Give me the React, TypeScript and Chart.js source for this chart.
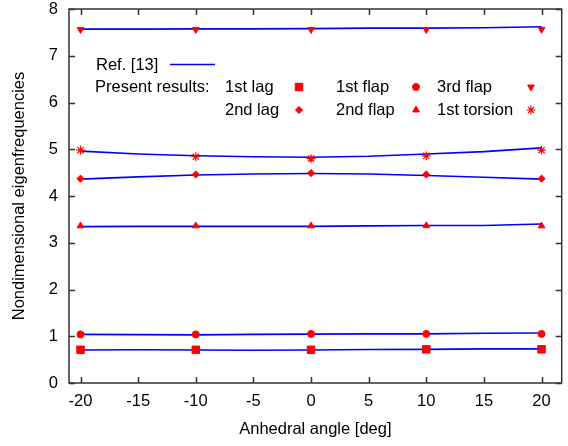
import React, { useEffect, useRef } from 'react';
import { Chart, registerables } from 'chart.js';
import { drawPoint } from 'chart.js/helpers';

Chart.register(...registerables);

// Anhedral angles (deg)
const refAngles = [-20, -15, -10, -5, 0, 5, 10, 15, 20];
const presentAngles = [-20, -10, 0, 10, 20];
const xTickValues = [-20, -15, -10, -5, 0, 5, 10, 15, 20];
const yTickValues = [0, 1, 2, 3, 4, 5, 6, 7, 8];

// Ref. [13] curves
const ref1stLag = [0.705, 0.71, 0.705, 0.7, 0.705, 0.715, 0.72, 0.73, 0.73];
const ref1stFlap = [1.04, 1.035, 1.03, 1.04, 1.045, 1.05, 1.05, 1.065, 1.07];
const ref2ndFlap = [3.345, 3.35, 3.35, 3.35, 3.35, 3.36, 3.37, 3.37, 3.4];
const ref2ndLag = [4.36, 4.41, 4.45, 4.47, 4.48, 4.47, 4.44, 4.4, 4.36];
const ref1stTorsion = [4.96, 4.9, 4.86, 4.84, 4.83, 4.85, 4.9, 4.95, 5.03];
const ref3rdFlap = [7.57, 7.57, 7.575, 7.575, 7.58, 7.59, 7.59, 7.6, 7.62];

// Present results
const present1stLag = [0.71, 0.71, 0.71, 0.72, 0.72];
const present1stFlap = [1.04, 1.04, 1.05, 1.05, 1.05];
const present2ndFlap = [3.36, 3.36, 3.36, 3.365, 3.36];
const present2ndLag = [4.37, 4.46, 4.49, 4.46, 4.37];
const present1stTorsion = [4.98, 4.84, 4.8, 4.86, 4.98];
const present3rdFlap = [7.56, 7.56, 7.56, 7.56, 7.565];

const modeLabels = ['1st lag', '1st flap', '3rd flap', '2nd lag', '2nd flap', '1st torsion'];

const FONT = "'Liberation Sans', Arial, Helvetica, sans-serif";
const FONT_SIZE = 16.5;
const RED = '#ff0000';
const BLUE = '#0000ff';

type Marker = { pointStyle: string; rotation: number; radius: number; borderWidth: number };

const markers: Record<string, Marker> = {
  '1st lag': { pointStyle: 'rect', rotation: 0, radius: 5.3, borderWidth: 1 },
  '1st flap': { pointStyle: 'circle', rotation: 0, radius: 3.5, borderWidth: 1 },
  '3rd flap': { pointStyle: 'triangle', rotation: 180, radius: 3.9, borderWidth: 1 },
  '2nd lag': { pointStyle: 'rectRot', rotation: 0, radius: 3.6, borderWidth: 1 },
  '2nd flap': { pointStyle: 'triangle', rotation: 0, radius: 3.9, borderWidth: 1 },
  '1st torsion': { pointStyle: 'star', rotation: 0, radius: 4.4, borderWidth: 1.2 },
};

const presentSeries: Record<string, number[]> = {
  '1st lag': present1stLag,
  '1st flap': present1stFlap,
  '3rd flap': present3rdFlap,
  '2nd lag': present2ndLag,
  '2nd flap': present2ndFlap,
  '1st torsion': present1stTorsion,
};

const refSeries = [ref1stLag, ref1stFlap, ref2ndFlap, ref2ndLag, ref1stTorsion, ref3rdFlap];

// Frame with inward tick marks on all four sides
const framePlugin = {
  id: 'frame',
  afterDatasetsDraw(chart: any) {
    const { ctx, chartArea: a, scales } = chart;
    const tl = 6;
    ctx.save();
    ctx.strokeStyle = '#333333';
    ctx.lineWidth = 1.5;
    ctx.beginPath();
    for (const v of xTickValues) {
      const px = Math.round(scales.x.getPixelForValue(v)) + 0.5;
      ctx.moveTo(px, a.bottom);
      ctx.lineTo(px, a.bottom - tl);
      ctx.moveTo(px, a.top);
      ctx.lineTo(px, a.top + tl);
    }
    for (const v of yTickValues) {
      const py = Math.round(scales.y.getPixelForValue(v)) + 0.5;
      ctx.moveTo(a.left, py);
      ctx.lineTo(a.left + tl, py);
      ctx.moveTo(a.right, py);
      ctx.lineTo(a.right - tl, py);
    }
    ctx.stroke();
    ctx.strokeRect(a.left, a.top, a.right - a.left, a.bottom - a.top);
    ctx.restore();
  },
};

// Key: reference line plus the six marker styles
const keyPlugin = {
  id: 'key',
  afterDraw(chart: any) {
    const { ctx } = chart;
    ctx.save();
    ctx.font = `${FONT_SIZE}px ${FONT}`;
    ctx.fillStyle = '#000';
    ctx.textBaseline = 'middle';
    ctx.textAlign = 'left';
    ctx.fillText('Ref. [13]', 96, 65);
    ctx.strokeStyle = BLUE;
    ctx.lineWidth = 1.5;
    ctx.beginPath();
    ctx.moveTo(170, 64.5);
    ctx.lineTo(215, 64.5);
    ctx.stroke();
    ctx.fillStyle = '#000';
    ctx.fillText('Present results:', 95, 87);

    const cols = [
      { tx: 225, mx: 299 },
      { tx: 336, mx: 416 },
      { tx: 437, mx: 531 },
    ];
    const rows = [87, 110];
    modeLabels.forEach((label, i) => {
      const col = cols[i % 3];
      const y = rows[Math.floor(i / 3)];
      ctx.fillStyle = '#000';
      ctx.fillText(label, col.tx, y);
      const m = markers[label];
      ctx.fillStyle = RED;
      ctx.strokeStyle = RED;
      ctx.lineWidth = m.borderWidth;
      drawPoint(ctx, m as any, col.mx, y);
    });
    ctx.restore();
  },
};

export default function App() {
  const canvasRef = useRef<HTMLCanvasElement | null>(null);

  useEffect(() => {
    document.body.style.margin = '0';
    const canvas = canvasRef.current;
    if (!canvas) return;

    const markerSets = modeLabels.map((label) => {
      const m = markers[label];
      return {
        label,
        data: presentAngles.map((x, i) => ({ x, y: presentSeries[label][i] })),
        showLine: false,
        pointStyle: m.pointStyle,
        rotation: m.rotation,
        pointRadius: m.radius,
        pointBorderWidth: m.borderWidth,
        pointBackgroundColor: RED,
        pointBorderColor: RED,
      };
    });

    const lineSets = refSeries.map((vals) => ({
      label: 'Ref. [13]',
      data: refAngles.map((x, i) => ({ x, y: vals[i] })),
      showLine: true,
      borderColor: BLUE,
      borderWidth: 1.6,
      pointRadius: 0,
      tension: 0,
    }));

    const tickFont = { family: FONT, size: FONT_SIZE };

    const chart = new Chart(canvas, {
      type: 'scatter',
      data: { datasets: [...markerSets, ...lineSets] as any },
      options: {
        animation: false,
        responsive: false,
        devicePixelRatio: 1,
        layout: { padding: { left: 0, right: 5, top: 9, bottom: 0 } },
        plugins: { legend: { display: false }, tooltip: { enabled: false } },
        scales: {
          x: {
            type: 'linear',
            position: 'bottom',
            min: -21,
            max: 21.75,
            grid: { display: false, drawTicks: false },
            border: { display: false },
            afterBuildTicks: (s: any) => {
              s.ticks = xTickValues.map((value) => ({ value }));
            },
            afterFit: (s: any) => {
              s.height = 63;
              s.paddingLeft = 0;
              s.paddingRight = 0;
            },
            ticks: {
              font: tickFont,
              color: '#000',
              padding: 9,
              autoSkip: false,
              maxRotation: 0,
            },
            title: {
              display: true,
              text: 'Anhedral angle [deg]',
              font: tickFont,
              color: '#000',
              padding: { top: 0, bottom: 7 },
            },
          },
          y: {
            type: 'linear',
            min: 0,
            max: 8,
            grid: { display: false, drawTicks: false },
            border: { display: false },
            afterBuildTicks: (s: any) => {
              s.ticks = yTickValues.map((value) => ({ value }));
            },
            afterFit: (s: any) => {
              s.width = 69;
              s.paddingTop = 0;
              s.paddingBottom = 0;
            },
            ticks: {
              font: tickFont,
              color: '#000',
              padding: 11,
            },
            title: {
              display: true,
              text: 'Nondimensional eigenfrequencies',
              font: tickFont,
              color: '#000',
              padding: { top: 10, bottom: 0 },
            },
          },
        },
      },
      plugins: [framePlugin, keyPlugin],
    });

    return () => chart.destroy();
  }, []);

  return (
    <div style={{ position: 'absolute', left: 0, top: 0, width: 568, height: 446 }}>
      <canvas ref={canvasRef} width={568} height={446} style={{ display: 'block', width: 568, height: 446 }} />
    </div>
  );
}
